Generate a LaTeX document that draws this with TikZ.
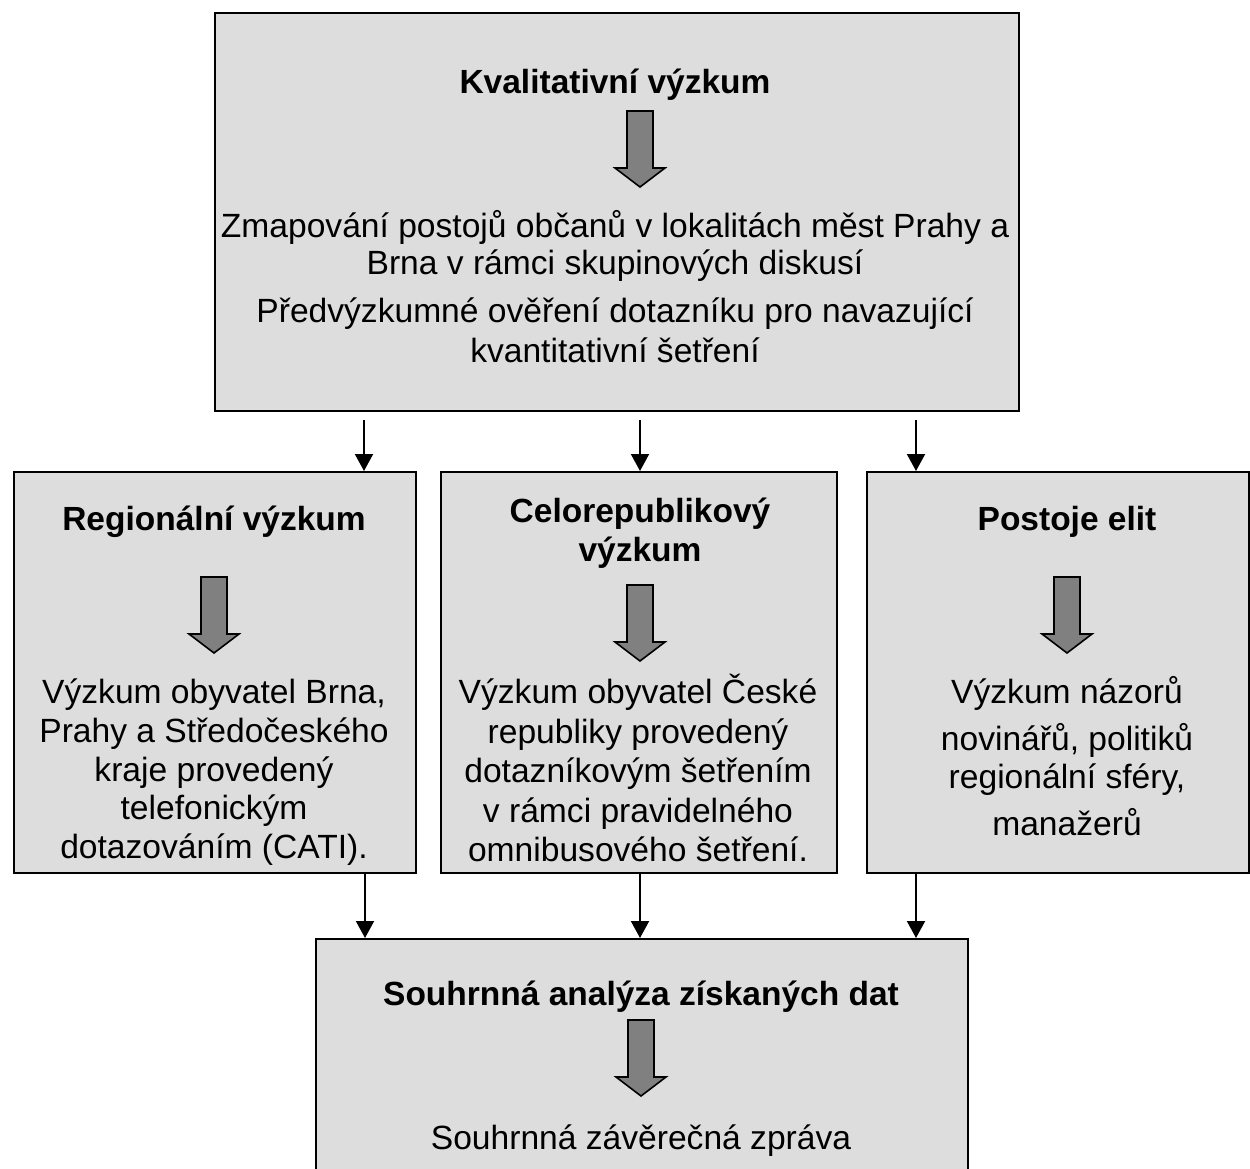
\documentclass[tikz,border=0pt]{standalone}
\usepackage{fontspec}
\setmainfont{Liberation Sans}
\usetikzlibrary{arrows.meta}
\definecolor{boxgray}{HTML}{DDDDDD}
\definecolor{arrgray}{HTML}{808080}
\newcommand\blkarrow[2]{%
  \draw[blk] (#1-13,#2) -- (#1+13,#2) -- (#1+13,#2+57) -- (#1+25,#2+57) -- (#1,#2+76) -- (#1-25,#2+57) -- (#1-13,#2+57) -- cycle;}
\begin{document}
\begin{tikzpicture}[x=1pt,y=-1pt,
  box/.style={draw=black,line width=2pt,fill=boxgray,anchor=north west,inner sep=0pt},
  ttl/.style={font=\fontsize{33.5}{40}\selectfont\bfseries,anchor=base,inner sep=0pt},
  txt/.style={font=\fontsize{33.6}{40}\selectfont,anchor=base,inner sep=0pt},
  conn/.style={line width=2pt,-{Triangle[width=18pt,length=17pt]}},
  blk/.style={draw=black,line width=1.6pt,fill=arrgray,line join=miter}]
\useasboundingbox (0,0) rectangle (1250,1169);
\fill[white] (0,0) rectangle (1250,1169);
\clip (0,0) rectangle (1250,1169);

% boxes
\node[box,minimum width=804pt,minimum height=398pt] (top) at (214,12) {};
\node[box,minimum width=402pt,minimum height=401pt] (left) at (13,471) {};
\node[box,minimum width=396pt,minimum height=401pt] (mid) at (440,471) {};
\node[box,minimum width=382pt,minimum height=401pt] (right) at (866,471) {};
\node[box,minimum width=652pt,minimum height=250pt] (bot) at (315,938) {};

% top box
\node[ttl] (ttop) at (615,94) {Kvalitativní výzkum};
\blkarrow{640}{111}
\node[txt] (tz1) at (615,237) {Zmapování postojů občanů v lokalitách měst Prahy a};
\node[txt] (tz2) at (615,274) {Brna v rámci skupinových diskusí};
\node[txt] (tz3) at (615,322) {Předvýzkumné ověření dotazníku pro navazující};
\node[txt] (tz4) at (615,362) {kvantitativní šetření};

% left box
\node[ttl] (tleft) at (214,530) {Regionální výzkum};
\blkarrow{214}{577}
\node[txt] (l1) at (214,703) {Výzkum obyvatel Brna,};
\node[txt] (l2) at (214,742) {Prahy a Středočeského};
\node[txt] (l3) at (214,781) {kraje provedený};
\node[txt] (l4) at (214,819) {telefonickým};
\node[txt] (l5) at (214,858) {dotazováním (CATI).};

% middle box
\node[ttl] (tmid1) at (640,522) {Celorepublikový};
\node[ttl] (tmid2) at (640,561) {výzkum};
\blkarrow{640}{585}
\node[txt] (m1) at (638,703) {Výzkum obyvatel České};
\node[txt] (m2) at (638,743) {republiky provedený};
\node[txt] (m3) at (638,782) {dotazníkovým šetřením};
\node[txt] (m4) at (638,822) {v rámci pravidelného};
\node[txt] (m5) at (638,861) {omnibusového šetření.};

% right box
\node[ttl] (tright) at (1067,530) {Postoje elit};
\blkarrow{1067}{577}
\node[txt] (r1) at (1067,703) {Výzkum názorů};
\node[txt] (r2) at (1067,750) {novinářů, politiků};
\node[txt] (r3) at (1067,788) {regionální sféry,};
\node[txt] (r4) at (1067,835) {manažerů};

% bottom box
\node[ttl] (tbot) at (641,1005) {Souhrnná analýza získaných dat};
\blkarrow{641}{1020}
\node[txt] (b1) at (641,1149) {Souhrnná závěrečná zpráva};

% connectors
\coordinate (c1) at (364,420);
\coordinate (c2) at (640,420);
\coordinate (c3) at (916,420);
\draw[conn] (c1) -- (c1 |- left.north);
\draw[conn] (c2) -- (c2 |- mid.north);
\draw[conn] (c3) -- (c3 |- right.north);
\coordinate (d1) at (365,0);
\coordinate (d2) at (640,0);
\coordinate (d3) at (916,0);
\draw[conn] (left.south -| d1) -- (bot.north -| d1);
\draw[conn] (mid.south -| d2) -- (bot.north -| d2);
\draw[conn] (right.south -| d3) -- (bot.north -| d3);
\end{tikzpicture}
\end{document}
